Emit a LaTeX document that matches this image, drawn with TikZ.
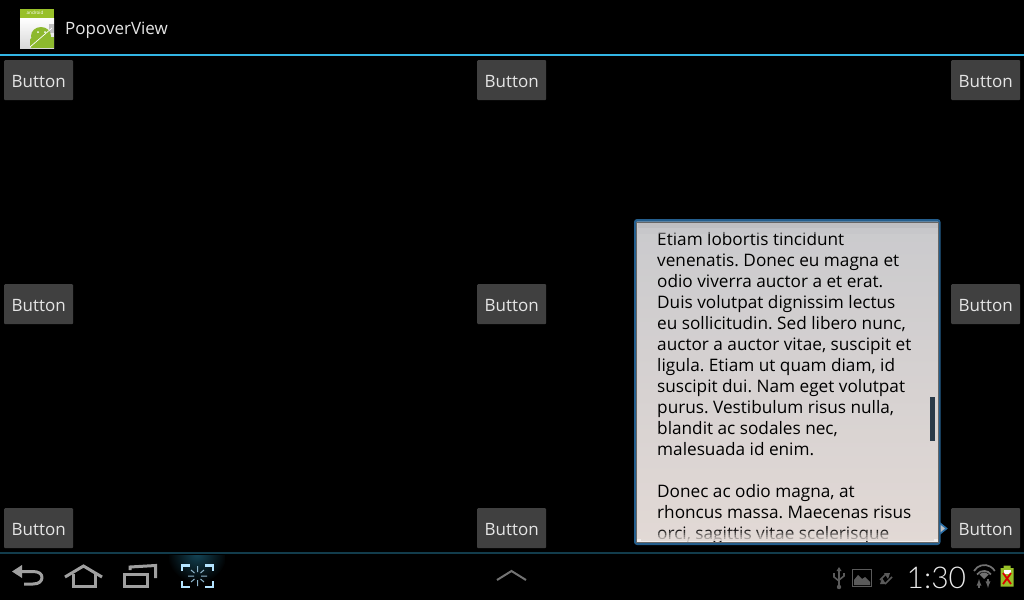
\documentclass[tikz,border=0pt]{standalone}
\usepackage{fontspec}
\setmainfont{Open Sans}
\newfontfamily\timefont{Lato Light}
\definecolor{holo}{HTML}{33B5E5}
\definecolor{btnfill}{HTML}{404040}
\definecolor{navgray}{HTML}{A0A0A0}
\definecolor{shotblue}{HTML}{B4E4FF}
\definecolor{navline}{HTML}{123C4C}
\definecolor{popblue}{HTML}{2A6EA6}
\definecolor{poptop}{HTML}{CACACD}
\definecolor{popbot}{HTML}{E2D9D5}
\definecolor{droid}{HTML}{8DB92E}
\definecolor{statgray}{HTML}{5A5A5A}
\definecolor{scrollbar}{HTML}{2A3A48}
\tikzset{
  x=1pt,y=-1pt,
  btn/.style={fill=btnfill,draw=none,rounded corners=1pt,minimum width=69pt,minimum height=40pt,inner sep=0pt,
    text=white!90!black,font=\fontsize{17}{20}\selectfont,anchor=north west,text depth=0pt,text height=14pt},
  body/.style={anchor=base west,inner sep=0pt,text=black,font=\fontsize{17.2}{21}\selectfont},
  navicon/.style={draw=navgray,line width=3pt,line join=miter},
  shot/.style={draw=shotblue,line width=2.4pt},
  tick/.style={draw=shotblue!80!black,line width=1pt},
  stat/.style={draw=statgray,line width=1.6pt},
}
\begin{document}
\frenchspacing
\begin{tikzpicture}
\useasboundingbox (0,0) rectangle (1024,600);
\fill[black] (0,0) rectangle (1024,600);
% title bar
\fill[holo] (0,54) rectangle (1024,56);
% app icon
\fill[droid!90!yellow] (20,8.5) rectangle (54,18);
\shade[top color=white,bottom color=black!15] (20,18) rectangle (54,48);
\begin{scope}
  \clip (20,8.5) rectangle (54,48);
  \fill[black!25] (49,24) rectangle (54,33);
  \fill[droid] (41,36) ellipse [x radius=10pt,y radius=9pt];
  \fill[droid] (33,37) rectangle (54,48);
  \fill[droid,rounded corners=2pt] (30,38) rectangle (35,48);
  \fill[white] (38,32) circle (1pt) (45,32) circle (1pt);
  \draw[white,line width=.7pt] (30,47) -- (52,28);
\end{scope}
\node[anchor=center,inner sep=0pt,text=white,font=\fontsize{4.6}{5}\selectfont] (iconlabel) at (35,13) {android};
\node[anchor=west,inner sep=0pt,text=white!90!black,font=\fontsize{17}{20}\selectfont] (title) at (65,30) {PopoverView};
% buttons
\node[btn] (b1) at (4,60) {Button};
\node[btn] (b2) at (477,60) {Button};
\node[btn] (b3) at (951,60) {Button};
\node[btn] (b4) at (4,284) {Button};
\node[btn] (b5) at (477,284) {Button};
\node[btn] (b6) at (951,284) {Button};
\node[btn] (b7) at (4,508) {Button};
\node[btn] (b8) at (477,508) {Button};
\node[btn] (b9) at (951,508) {Button};
% popover
\path[fill=black!25,draw=popblue,line width=1.6pt] (938.5,522) -- (946.5,528.5) -- (938.5,535) -- cycle;
\fill[popblue!85!black,rounded corners=3pt] (634,219) rectangle (940.5,545);
\shade[top color=poptop,bottom color=popbot,rounded corners=1pt] (636,221.5) rectangle (938.5,542.5);
\draw[black!60,line width=.8pt] (636.5,222) -- (636.5,542) -- (938,542) -- (938,222) -- cycle;
\fill[white,opacity=.55] (637,539) rectangle (937.5,541.5);
\begin{scope}
  \clip (641,221.5) rectangle (934,541);
  \draw[black!28,line width=3pt,dash pattern=on 3pt off 1.5pt] (657,219.5) -- (876,219.5);
  \node[body] (l1) at (657,245) {Etiam lobortis tincidunt};
  \node[body] (l2) at (657,266) {venenatis. Donec eu magna et};
  \node[body] (l3) at (657,287) {odio viverra auctor a et erat.};
  \node[body] (l4) at (657,308) {Duis volutpat dignissim lectus};
  \node[body] (l5) at (657,329) {eu sollicitudin. Sed libero nunc,};
  \node[body] (l6) at (657,350) {auctor a auctor vitae, suscipit et};
  \node[body] (l7) at (657,371) {ligula. Etiam ut quam diam, id};
  \node[body] (l8) at (657,392) {suscipit dui. Nam eget volutpat};
  \node[body] (l9) at (657,413) {purus. Vestibulum risus nulla,};
  \node[body] (l10) at (657,434) {blandit ac sodales nec,};
  \node[body] (l11) at (657,455) {malesuada id enim.};
  \node[body] (l12) at (657,497) {Donec ac odio magna, at};
  \node[body] (l13) at (657,518) {rhoncus massa. Maecenas risus};
  \node[body] (l14) at (657,539) {orci, sagittis vitae scelerisque};
\end{scope}
% top and bottom fades of the scrolling text
\fill[poptop!94!black,opacity=.85] (637.5,222.5) rectangle (937.5,228);
\fill[poptop!97!black,opacity=.45] (637.5,228) rectangle (937.5,234);
\foreach \yy/\op in {529/.1,531/.16,533/.22,535/.3,537/.38,539/.5}
  \fill[popbot,opacity=\op] (641,\yy) rectangle (934,541);
\fill[scrollbar] (930,397) rectangle (934.5,441);
% navigation bar
\fill[navline] (0,552) rectangle (1024,554);
\draw[navicon,line join=round] (20,571.5) -- (33,571.5) .. controls (39,571.5) and (42,574) .. (42,577.5) .. controls (42,581) and (39,584) .. (33,584) -- (24,584);
\fill[navgray] (12,571.5) -- (22,565) -- (22,578) -- cycle;
\draw[navicon] (65,577) -- (83.5,566) -- (102,577);
\draw[navicon] (73,574) -- (73,586) -- (95,586) -- (95,574);
\draw[navicon] (124,574) rectangle (147,586);
\draw[navicon] (130,570) -- (130,567) -- (155.5,565.5) -- (155.5,578);
% screenshot button
\begin{scope}
  \clip (169,555) rectangle (225,590);
  \shade[inner color=holo!38!black,outer color=black] (197,553) circle (30pt);
\end{scope}
\draw[shot] (182,571) -- (182,565.5) -- (190,565.5);
\draw[shot] (205,565.5) -- (213,565.5) -- (213,571);
\draw[shot] (182,581) -- (182,587) -- (190,587);
\draw[shot] (205,587) -- (213,587) -- (213,581);
\draw[tick] (197.5,566) -- (197.5,572) (197.5,580) -- (197.5,586)
  (188,576) -- (194,576) (201,576) -- (207,576)
  (191,570) -- (194.5,573) (204,570) -- (200.5,573)
  (191,582) -- (194.5,579) (204,582) -- (200.5,579);
% chevron
\draw[draw=black!55,line width=2pt] (497,580) -- (511.5,571) -- (526,580);
% status icons
\draw[stat] (839,570) -- (839,586);
\fill[statgray] (839,567) -- (841.5,571) -- (836.5,571) -- cycle (839,587) circle (2.2pt);
\draw[stat] (834,573) -- (834,577) -- (839,581) (844,573) -- (844,576) -- (839,580);
\draw[stat] (852.5,569.5) rectangle (871.5,586.5);
\fill[statgray] (854,585) -- (854,580) -- (858,575) -- (862,579) -- (865,577) -- (870,582) -- (870,585) -- cycle;
\draw[stat] (880,580) -- (886,574) (885,584) -- (892,577);
\fill[statgray] (884,573) -- (890,573) -- (888,579) -- cycle (880,584) -- (886,584) -- (882,578) -- cycle;
\node[anchor=base west,inner sep=0pt,text=white!92!black,font=\timefont\fontsize{30}{34}\selectfont] (clock) at (906.5,588) {1:30};
\draw[draw=black!55,line width=1.7pt] (974,571) arc[start angle=150,end angle=30,radius=12pt];
\draw[draw=black!55,line width=1.7pt] (977,574.5) arc[start angle=145,end angle=35,radius=8.5pt];
\fill[black!55] (984,579) -- (979.5,574.5) arc[start angle=140,end angle=40,radius=6pt] -- cycle;
\draw[draw=black!60,line width=1.3pt,-latex] (979,588) -- (979,579);
\draw[draw=black!60,line width=1.3pt,-latex] (988,579) -- (988,588);
\fill[droid!90!yellow] (1003.5,565.5) rectangle (1010.5,568) (1000.5,568) rectangle (1013.5,586.5);
\fill[white] (1004,570) rectangle (1011,574);
\draw[red!85!black,line width=1.8pt] (1003,573) -- (1011,584) (1011,573) -- (1003,584);
\end{tikzpicture}
\end{document}
